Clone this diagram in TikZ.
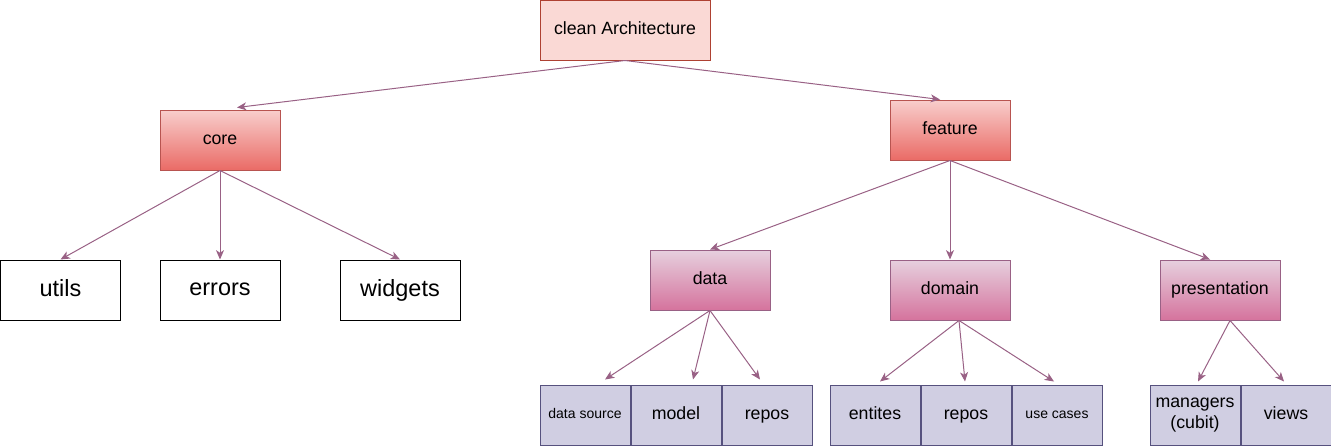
\documentclass[tikz,border=0pt]{standalone}
\usepackage{fontspec}
\setmainfont{Liberation Sans}
\usetikzlibrary{positioning, arrows.meta, calc}

\definecolor{rootfill}{HTML}{FAD9D5}
\definecolor{rootline}{HTML}{AE4132}
\definecolor{redtop}{HTML}{F8CECC}
\definecolor{redbot}{HTML}{EA6B66}
\definecolor{redline}{HTML}{B85450}
\definecolor{pinktop}{HTML}{E6D0DE}
\definecolor{pinkbot}{HTML}{D5739D}
\definecolor{pinkline}{HTML}{996185}
\definecolor{leaffill}{HTML}{D0CEE2}
\definecolor{leafline}{HTML}{56517E}
\definecolor{linkcol}{HTML}{996185}

\tikzset{
  box/.style={draw, rectangle, line width=0.75pt, minimum width=90pt, minimum height=45pt,
    inner sep=2pt, align=center, font=\fontsize{13.3}{15.5}\selectfont,
    execute at begin node=\vphantom{Ag}},
  rootbox/.style={box, fill=rootfill, draw=rootline, minimum width=127.5pt},
  redbox/.style={box, top color=redtop, bottom color=redbot, draw=redline},
  pinkbox/.style={box, top color=pinktop, bottom color=pinkbot, draw=pinkline},
  plainbox/.style={box, draw=black, fill=white, font=\fontsize{17.6}{21}\selectfont},
  leafbox/.style={box, fill=leaffill, draw=leafline, minimum width=67.5pt},
  smalltext/.style={font=\fontsize{10.5}{12.6}\selectfont},
  link/.style={draw=linkcol, line width=0.75pt, -{Stealth[length=7pt,width=6pt,inset=2pt]}},
}

\begin{document}
\begin{tikzpicture}[x=0.75pt, y=-0.75pt]
    \useasboundingbox (0,0) rectangle (1331,446);

    % top levels
    \node[rootbox] (clean) at (625,30) {clean Architecture};
    \node[redbox] (core) at (220,140) {core};
    \node[redbox] (feature) at (950,130) {feature};

    % core children
    \node[plainbox] (utils) at (60.5,290) {utils};
    \node[plainbox] (errors) at (220,290) {errors};
    \node[plainbox] (widgets) at (400,290) {widgets};

    % feature children
    \node[pinkbox] (data) at (710,280) {data};
    \node[pinkbox] (domain) at (950,290) {domain};
    \node[pinkbox] (presentation) at (1220,290) {presentation};

    % bottom rows
    \node[leafbox, smalltext] (dsource) at (585,415) {data source};
    \node[leafbox, right=0pt of dsource] (model) {model};
    \node[leafbox, right=0pt of model] (drepos) {repos};

    \node[leafbox] (entites) at (875,415) {entites};
    \node[leafbox, right=0pt of entites] (repos) {repos};
    \node[leafbox, smalltext, right=0pt of repos] (usecases) {use cases};

    \node[leafbox] (managers) at (1195,415) {managers\\(cubit)};
    \node[leafbox, right=0pt of managers] (views) {views};

    % connectors
    \draw[link] (clean.south) -- ($(core.north)+(17,-2)$);
    \draw[link] (clean.south) -- ($(feature.north)+(-10,0)$);

    \draw[link] (core.south) -- (utils.north);
    \draw[link] (core.south) -- (errors.north);
    \draw[link] (core.south) -- (widgets.north);

    \draw[link] (feature.south) -- (data.north);
    \draw[link] (feature.south) -- (domain.north);
    \draw[link] (feature.south) -- ($(presentation.north)+(-10,0)$);

    \draw[link] (data.south) -- ($(dsource.north)+(20,-5)$);
    \draw[link] (data.south) -- ($(model.north)+(17,-5)$);
    \draw[link] (data.south) -- ($(drepos.north)+(-7,-5)$);

    \draw[link] ($(domain.south)+(9,0)$) -- ($(entites.north)+(5,-3)$);
    \draw[link] ($(domain.south)+(9,0)$) -- ($(repos.north)+(-1,-3)$);
    \draw[link] ($(domain.south)+(9,0)$) -- ($(usecases.north)+(-3,-3)$);

    \draw[link] ($(presentation.south)+(10,0)$) -- ($(managers.north)+(3,-3)$);
    \draw[link] ($(presentation.south)+(10,0)$) -- ($(views.north)+(-2,-3)$);
\end{tikzpicture}
\end{document}
